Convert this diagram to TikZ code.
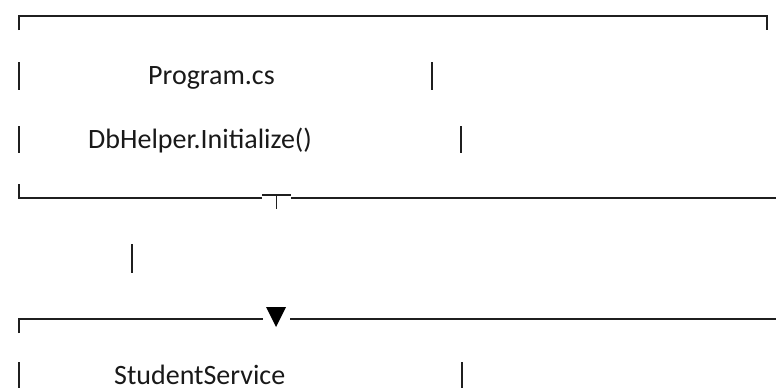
\documentclass[tikz,border=0pt]{standalone}
\usepackage{fontspec}
\setmainfont{Carlito}
\begin{document}
\begin{tikzpicture}[x=1pt,y=-1pt,
  ln/.style={line width=1.5pt,draw=black!88,line cap=butt},
  txt/.style={anchor=base west,inner sep=0pt,font=\fontsize{28}{30}\selectfont,text=black!90}]
\useasboundingbox (0,0) rectangle (776,388);
% top border
\draw[ln] (19,30) -- (19,16) -- (767,16) -- (767,30);
% row 2
\draw[ln] (19,62) -- (19,90);
\node[txt] (prog) at (148,84) {Program.cs};
\draw[ln] (432,62) -- (432,90);
% row 3
\draw[ln] (19,126) -- (19,153);
\node[txt] (init) at (88,148) {DbHelper.Initialize()};
\draw[ln] (461,126) -- (461,153);
% row 4
\draw[ln] (19,184) -- (19,198) -- (262,198);
\draw[ln] (262,195) -- (291,195);
\draw[line width=1pt,draw=black!88] (276,195) -- (276,209);
\draw[ln] (291,198) -- (776,198);
% row 5
\draw[ln] (132,244) -- (132,273);
% row 6
\draw[ln] (19,333) -- (19,319) -- (263,319);
\fill[black] (266,307) -- (286,307) -- (276,327) -- cycle;
\draw[ln] (290,319) -- (776,319);
% row 7
\draw[ln] (19,362) -- (19,388);
\node[txt] (svc) at (114,384) {StudentService};
\draw[ln] (462,362) -- (462,388);
\end{tikzpicture}
\end{document}
